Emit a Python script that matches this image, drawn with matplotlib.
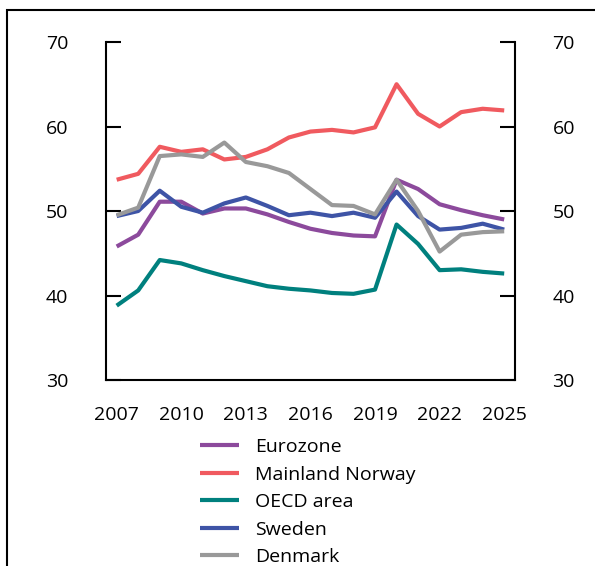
import matplotlib.pyplot as plt
from matplotlib.patches import Rectangle

plt.rcParams['font.family'] = ['Open Sans', 'DejaVu Sans']

# Data
years = list(range(2007, 2026))
eurozone = [45.8, 47.2, 51.1, 51.1, 49.7, 50.3, 50.3, 49.6, 48.7, 47.9, 47.4, 47.1,
            47.0, 53.7, 52.6, 50.8, 50.1, 49.5, 49.0]
norway = [53.7, 54.4, 57.6, 57.0, 57.3, 56.1, 56.4, 57.3, 58.7, 59.4, 59.6, 59.3,
          59.9, 65.0, 61.5, 60.0, 61.7, 62.1, 61.9]
oecd = [38.8, 40.6, 44.2, 43.8, 43.0, 42.3, 41.7, 41.1, 40.8, 40.6, 40.3, 40.2,
        40.7, 48.4, 46.1, 43.0, 43.1, 42.8, 42.6]
sweden = [49.4, 50.0, 52.4, 50.5, 49.8, 50.9, 51.6, 50.6, 49.5, 49.8, 49.4, 49.8,
          49.2, 52.3, 49.4, 47.8, 48.0, 48.5, 47.8]
denmark = [49.5, 50.4, 56.5, 56.7, 56.4, 58.1, 55.8, 55.3, 54.5, 52.6, 50.7, 50.6,
           49.6, 53.7, 50.0, 45.2, 47.2, 47.5, 47.6]

series = [
    ('Eurozone', eurozone, '#8C4A9C'),
    ('Mainland Norway', norway, '#F05A5F'),
    ('OECD area', oecd, '#00807E'),
    ('Sweden', sweden, '#3E54A6'),
    ('Denmark', denmark, '#999999'),
]

fig = plt.figure(figsize=(5.95, 5.66), dpi=100)
ax = fig.add_axes([0.178, 0.3286, 0.6875, 0.5972])

for name, vals, col in series:
    ax.plot(years, vals, color=col, lw=3, label=name, solid_capstyle='butt')

ax.set_xlim(2006.5, 2025.5)
ax.set_ylim(30, 70)
ax.set_xticks(range(2007, 2026, 3))
ax.set_yticks(range(30, 71, 10))

ax.spines['top'].set_visible(False)
for s in ['left', 'right', 'bottom']:
    ax.spines[s].set_linewidth(1.5)

ax.tick_params(axis='y', direction='in', length=11, width=1.5, pad=27,
               left=True, right=True, labelleft=True, labelright=True, labelsize=14)
ax.tick_params(axis='x', length=0, pad=19, labelsize=14)

fig.legend(loc='upper left', bbox_to_anchor=(0.336, 0.226), frameon=False,
           fontsize=14, handlelength=2.0, handletextpad=0.85, labelspacing=0.49,
           borderpad=0, borderaxespad=0)

# frame around the figure
fig.patches.append(Rectangle((7 / 595, -0.1), 1.2, 1.1 - 10 / 566,
                             transform=fig.transFigure, fill=False,
                             edgecolor='black', lw=1.5, clip_on=False))

fig.savefig('out.png', dpi=100)
